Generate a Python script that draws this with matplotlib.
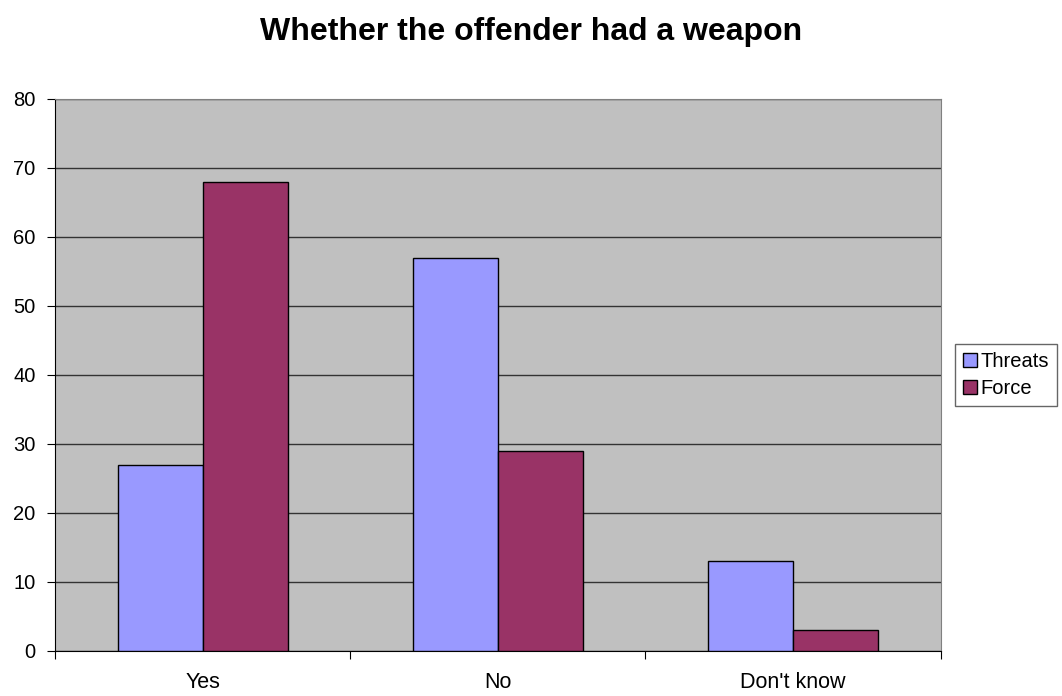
import matplotlib.pyplot as plt
import numpy as np

plt.rcParams['font.family'] = ['Liberation Sans', 'DejaVu Sans']

categories = ["Yes", "No", "Don't know"]
threats = [27, 57, 13]
force = [68, 29, 3]

fig = plt.figure(figsize=(10.62, 6.96), dpi=100)
ax = fig.add_axes([0.0518, 0.0647, 0.834, 0.7931])
ax.set_facecolor('#C0C0C0')

x = np.arange(len(categories)) + 0.5
w = 0.288
ax.bar(x - w / 2, threats, w, color='#9999FF', edgecolor='black', linewidth=1, label='Threats', zorder=3)
ax.bar(x + w / 2, force, w, color='#993366', edgecolor='black', linewidth=1, label='Force', zorder=3)

ax.set_xlim(0, 3)
ax.set_ylim(0, 80)
ax.set_yticks(range(0, 81, 10))
ax.yaxis.grid(True, color='#333333', linewidth=1, zorder=1)

# category ticks at the boundaries, labels at the centres
ax.set_xticks([0, 1, 2, 3])
ax.set_xticklabels([])
ax.set_xticks(x, minor=True)
ax.set_xticklabels(categories, minor=True)
ax.tick_params(axis='x', which='minor', length=0, pad=15, labelsize=15.5)
ax.tick_params(axis='x', which='major', length=6, color='black', direction='out')
ax.tick_params(axis='y', length=6, color='black', labelsize=14.5, pad=8)

for s in ['top', 'right']:
    ax.spines[s].set_color('#808080')
ax.spines['left'].set_color('black')
ax.spines['bottom'].set_color('black')

fig.text(0.5, 0.954, 'Whether the offender had a weapon', ha='center', va='center',
         fontsize=23, fontweight='bold')

leg = ax.legend(loc='center left', bbox_to_anchor=(1.016, 0.5), fontsize=14.5, frameon=True,
                fancybox=False, edgecolor='#404040', handlelength=0.7, handleheight=0.7,
                handletextpad=0.15, borderpad=0.4, labelspacing=0.4, borderaxespad=0)
leg.get_frame().set_linewidth(1)

fig.savefig('out.png', dpi=100)
